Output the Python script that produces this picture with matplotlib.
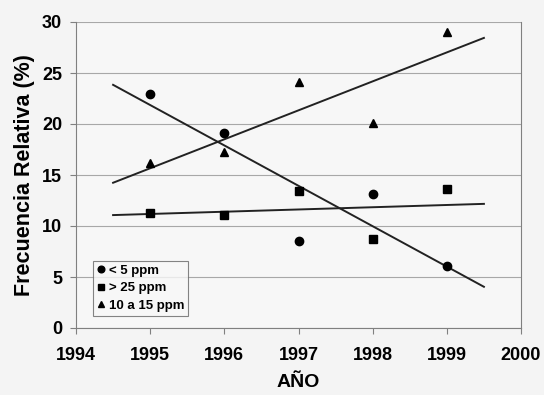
import numpy as np
import matplotlib
matplotlib.use("Agg")
import matplotlib.pyplot as plt

plt.rcParams["font.family"] = ["Liberation Sans", "DejaVu Sans"]
plt.rcParams["font.weight"] = "bold"

# ── Data ─────────────────────────────────────────────────────────────────────
years = np.array([1995, 1996, 1997, 1998, 1999])
bajo_5 = [22.9, 19.1, 8.5, 13.1, 6.1]        # < 5 ppm
sobre_25 = [11.3, 11.1, 13.4, 8.7, 13.6]     # > 25 ppm
de_10_15 = [16.2, 17.3, 24.1, 20.1, 29.0]    # 10 a 15 ppm

series = [
    ("< 5 ppm", bajo_5, "o", 6),
    ("> 25 ppm", sobre_25, "s", 5.5),
    ("10 a 15 ppm", de_10_15, "^", 6),
]

fig = plt.figure(figsize=(5.44, 3.95), dpi=100)
fig.patch.set_facecolor("#f4f4f4")
ax = fig.add_axes([76 / 544, 1 - 328 / 395, (521 - 76) / 544, (328 - 22) / 395])
ax.set_facecolor("#f7f7f7")

# scatter points + linear trendlines (Excel style, 1994.5 – 1999.5)
x_tr = np.array([1994.5, 1999.5])
for label, vals, mk, ms in series:
    ax.plot(years, vals, linestyle="none", marker=mk, ms=ms, color="black",
            label=label, zorder=3)
    m, b = np.polyfit(years, vals, 1)
    ax.plot(x_tr, m * x_tr + b, color="#222222", lw=1.4, zorder=2)

ax.set_xlim(1994, 2000)
ax.set_ylim(0, 30)
ax.set_xticks(range(1994, 2001))
ax.set_yticks(range(0, 31, 5))
ax.yaxis.grid(True, color="#a8a8a8", lw=0.8)
ax.set_axisbelow(True)
for side in ["left", "bottom", "right"]:
    ax.spines[side].set_color("#808080")
ax.spines["top"].set_visible(False)
ax.tick_params(axis="both", labelsize=13, color="#808080", length=4, width=0.8)
ax.tick_params(axis="x", pad=10)
ax.tick_params(axis="y", pad=6)

ax.set_xlabel("AÑO", fontsize=14, fontweight="bold", labelpad=7)
ax.set_ylabel("Frecuencia Relativa (%)", fontsize=15.5, fontweight="bold", labelpad=5)

leg = ax.legend(loc="lower left", bbox_to_anchor=(0.038, 0.04), fontsize=9.5,
                frameon=True, fancybox=False, handlelength=0.6,
                handletextpad=0.3, borderpad=0.3, labelspacing=0.4,
                borderaxespad=0, markerscale=0.8)
leg.get_frame().set_edgecolor("#666666")
leg.get_frame().set_linewidth(0.8)
leg.get_frame().set_facecolor("#f7f7f7")
for t in leg.get_texts():
    t.set_fontweight("bold")

fig.savefig("out.png", dpi=100, facecolor=fig.get_facecolor())
